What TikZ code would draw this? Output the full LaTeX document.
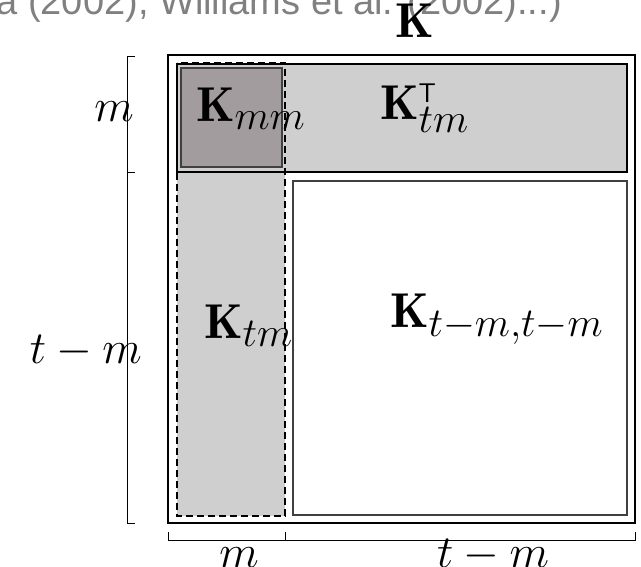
\RequirePackage{fix-cm}
\documentclass[tikz,border=0pt]{standalone}
\usepackage{fontspec}
\newfontfamily\slidefont{Liberation Sans}
\DeclareMathSizes{49}{49}{41}{27}
\definecolor{lightg}{HTML}{CFCFCF}
\definecolor{darkg}{HTML}{A39C9F}
\definecolor{slidegray}{HTML}{808080}
\definecolor{edgeg}{HTML}{404040}
\tikzset{
  matlbl/.style={inner sep=0pt, font=\fontsize{49}{56}\selectfont},
  dimlbl/.style={inner sep=0pt, font=\fontsize{46}{52}\selectfont},
  outerbox/.style={draw=black, line width=1.2pt},
  rowbox/.style={fill=lightg, draw=black, line width=1.8pt},
  mmbox/.style={fill=darkg, draw=edgeg, line width=1.4pt},
  restbox/.style={fill=white, draw=edgeg, line width=1.4pt},
  colbox/.style={draw=black, line width=2.6pt, dash pattern=on 7pt off 4pt},
  brace/.style={draw=black, line width=0.9pt}
}
\begin{document}
\begin{tikzpicture}[x=1pt,y=-1pt]
\useasboundingbox (0,0) rectangle (641,567);
\clip (0,0) rectangle (641,567);
% slide text fragment
\node[anchor=base east, inner sep=0pt, text=slidegray, font=\slidefont\fontsize{38}{40}\selectfont] (slide) at (562,15) {a (2002), Williams et al. (2002)...)};
% boxes
\draw[outerbox] (168,55) rectangle (635,523);
\fill[lightg] (177,63) rectangle (285,516);
\draw[rowbox] (177,64) rectangle (627,172);
\draw[mmbox] (181,68) rectangle (282,167);
\draw[restbox] (293,181) rectangle (627,515);
\draw[colbox] (177,63) rectangle (285,516);
% braces left
\draw[brace] (135,56) -- (127,56) -- (127,523) -- (135,523);
\draw[brace] (127,172) -- (135,172);
% braces bottom
\draw[brace] (168,532) -- (168,540) -- (635,540) -- (635,532);
\draw[brace] (285,540) -- (285,532);
% labels
\node[matlbl, anchor=base] (K) at (415,38) {$\mathbf{K}$};
\node[matlbl, anchor=base west] (Kmm) at (196,122) {$\mathbf{K}_{mm}$};
\node[matlbl, anchor=base west] (Ktmt) at (380,120) {$\mathbf{K}_{tm}^{\scriptscriptstyle\mathsf{T}}$};
\node[matlbl, anchor=base west] (Ktm) at (204,338) {$\mathbf{K}_{tm}$};
\node[matlbl, anchor=base west] (Krest) at (390,328) {$\mathbf{K}_{t-m,t-m}$};
\node[dimlbl, anchor=base east] (lm) at (134,122) {$m$};
\node[dimlbl, anchor=base east] (ltm) at (142,363) {$t-m$};
\node[dimlbl, anchor=base] (bm) at (239,567) {$m$};
\node[dimlbl, anchor=base] (btm) at (493,567) {$t-m$};
\end{tikzpicture}
\end{document}
